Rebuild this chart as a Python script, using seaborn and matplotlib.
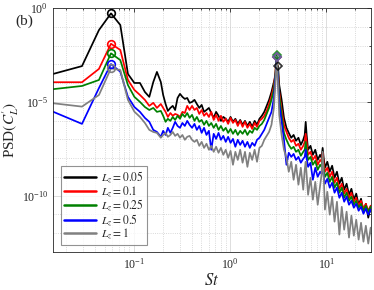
import numpy as np
import pandas as pd
import matplotlib
matplotlib.use("Agg")
import matplotlib.pyplot as plt
import seaborn as sns
from matplotlib.lines import Line2D
from matplotlib.ticker import FixedLocator, NullFormatter

# Strouhal numbers of the spectrum samples
st = [0.0145, 0.029, 0.0435, 0.058, 0.0725, 0.087, 0.1015, 0.116, 0.1305, 0.145, 0.1595, 0.174,
      0.191, 0.202, 0.214, 0.226, 0.240, 0.254, 0.269, 0.285, 0.302, 0.320, 0.339, 0.359,
      0.380, 0.403, 0.427, 0.452, 0.479, 0.507, 0.537, 0.569, 0.603, 0.638, 0.676, 0.716,
      0.759, 0.804, 0.851, 0.902, 0.955, 1.012, 1.072, 1.135, 1.202, 1.274, 1.349, 1.429,
      1.514, 1.603, 1.698, 1.799, 1.905, 2.018, 2.138, 2.265, 2.399, 2.541, 2.692, 2.851,
      2.95, 3.05, 3.15,
      3.24, 3.43, 3.63, 3.85, 4.07, 4.32, 4.57, 4.84, 5.13, 5.43, 5.75, 5.96, 6.10, 6.24,
      6.46, 6.84, 7.24, 7.67, 8.13, 8.61, 8.91, 9.15, 9.38, 9.66, 10.23, 10.84, 11.48, 12.16,
      12.88, 13.65, 14.45, 15.31, 16.22, 17.18, 18.2, 19.28, 20.42, 21.63, 22.91, 24.27,
      25.7, 27.23, 28.84, 30.55]

# log10 PSD(C_L') for each Lz
lz_005 = [-3.51, -3.09, -1.17, -0.28, -0.90, -3.51, -3.99, -3.99, -4.47, -4.73, -3.94, -3.40,
          -3.94, -4.63, -5.11, -5.48, -5.32, -5.21, -5.43, -4.79, -4.57, -4.73, -4.84, -4.79,
          -5.05, -5.00, -4.89, -5.11, -5.32, -5.16, -5.53, -5.43, -5.32, -5.59, -5.85, -5.53,
          -5.74, -6.01, -5.80, -5.90, -6.06, -5.80, -6.06, -5.90, -6.17, -5.96, -6.22, -6.01,
          -6.28, -6.06, -6.33, -6.01, -6.22, -5.90, -5.74, -5.53, -5.21, -4.89, -4.47, -3.94,
          -3.62, -3.40, -3.09,
          -4.10, -4.89, -5.85, -6.38, -6.65, -6.91, -6.76, -7.07, -6.91, -7.29, -7.02, -6.76,
          -6.06, -6.76, -7.55, -7.34, -7.82, -7.55, -8.09, -7.82, -7.98, -7.45, -7.98, -8.51,
          -8.19, -8.72, -8.40, -9.04, -8.72, -9.36, -9.04, -9.68, -9.36, -9.95, -9.63, -10.21,
          -9.89, -10.48, -10.16, -10.85, -10.43, -11.17, -10.59, -11.28]
lz_01 = [-3.95, -3.95, -3.24, -1.90, -2.23, -3.83, -4.36, -4.63, -4.89, -5.21, -5.05, -5.32,
         -5.11, -5.32, -5.53, -5.80, -5.59, -5.74, -5.64, -5.69, -5.80, -5.53, -5.59, -5.21,
         -5.43, -5.21, -5.43, -5.32, -5.64, -5.43, -5.74, -5.59, -5.80, -5.53, -5.96, -5.69,
         -6.01, -5.74, -6.06, -5.90, -6.17, -5.85, -6.12, -5.96, -6.28, -6.01, -6.33, -6.06,
         -6.38, -6.17, -6.44, -6.12, -6.33, -6.01, -5.90, -5.74, -5.48, -5.11, -4.68, -4.15,
         -3.40, -2.59, -3.40,
         -4.47, -5.43, -6.22, -6.60, -6.91, -7.13, -7.02, -7.34, -7.23, -7.55, -7.34, -7.13,
         -6.70, -7.13, -7.82, -7.66, -8.09, -7.87, -8.35, -8.09, -8.19, -7.71, -8.24, -8.72,
         -8.51, -8.99, -8.72, -9.31, -9.04, -9.63, -9.36, -9.89, -9.63, -10.11, -9.84, -10.32,
         -10.11, -10.53, -10.27, -10.69, -10.43, -10.80, -10.53, -10.85]
lz_025 = [-4.32, -4.15, -3.83, -2.41, -2.77, -4.10, -4.73, -5.00, -5.27, -5.43, -5.32, -5.53,
          -5.48, -5.74, -6.06, -5.90, -6.01, -5.80, -5.96, -5.74, -5.90, -5.64, -5.80, -5.59,
          -5.85, -5.69, -6.01, -5.80, -6.06, -5.96, -6.22, -6.01, -6.28, -6.12, -6.38, -6.17,
          -6.49, -6.28, -6.54, -6.38, -6.65, -6.44, -6.70, -6.49, -6.76, -6.54, -6.70, -6.49,
          -6.76, -6.54, -6.65, -6.38, -6.49, -6.28, -6.17, -5.96, -5.64, -5.32, -4.89, -4.36,
          -3.56, -2.50, -3.51,
          -4.68, -5.69, -6.65, -7.02, -7.29, -7.50, -7.39, -7.66, -7.55, -7.87, -7.66, -7.55,
          -7.13, -7.55, -8.09, -7.93, -8.35, -8.14, -8.62, -8.35, -8.46, -7.98, -8.51, -8.99,
          -8.78, -9.26, -8.99, -9.57, -9.31, -9.84, -9.57, -10.11, -9.84, -10.27, -10.05, -10.48,
          -10.27, -10.64, -10.43, -10.80, -10.53, -10.85, -10.59, -10.90]
lz_05 = [-5.52, -6.17, -4.26, -2.98, -3.39, -4.73, -5.27, -5.53, -5.85, -6.06, -6.49, -6.60,
         -6.86, -6.54, -6.76, -6.38, -6.65, -6.38, -6.06, -6.28, -6.38, -6.12, -6.28, -6.01,
         -6.22, -6.38, -6.17, -6.49, -6.28, -6.65, -6.38, -6.76, -6.54, -7.55, -6.70, -6.97,
         -6.65, -7.02, -6.81, -7.13, -6.86, -7.18, -6.97, -7.39, -7.02, -7.29, -7.07, -7.39,
         -7.13, -7.45, -7.18, -7.34, -7.02, -6.91, -6.70, -6.49, -6.17, -5.85, -5.53, -4.79,
         -3.83, -2.61, -3.83,
         -5.11, -6.06, -7.02, -8.35, -7.71, -7.93, -7.77, -8.09, -7.93, -8.24, -8.03, -7.93,
         -7.55, -7.98, -8.46, -8.24, -9.15, -8.51, -8.99, -8.72, -8.83, -8.40, -8.94, -9.36,
         -9.10, -9.57, -9.31, -9.84, -9.57, -10.11, -9.84, -10.32, -10.05, -10.48, -10.27, -10.64,
         -10.43, -10.80, -10.59, -10.96, -10.69, -11.01, -10.74, -11.06]
lz_1 = [-5.07, -5.25, -4.63, -3.21, -3.30, -4.89, -5.52, -5.80, -6.12, -6.49, -6.60, -6.65,
        -6.91, -6.76, -6.65, -6.86, -6.76, -6.60, -6.81, -6.70, -6.91, -6.76, -7.02, -6.86,
        -6.81, -7.02, -7.13, -7.02, -7.34, -7.13, -7.45, -7.23, -7.55, -7.34, -7.66, -7.39,
        -7.71, -7.45, -7.82, -7.55, -7.98, -7.61, -8.35, -7.66, -8.09, -7.55, -8.24, -7.66,
        -8.46, -7.71, -8.09, -7.55, -8.19, -7.45, -7.34, -7.02, -6.81, -6.60, -6.22, -5.32,
        -4.10, -2.61, -4.10,
        -5.69, -6.76, -7.55, -7.98, -8.72, -8.19, -9.15, -8.35, -9.41, -8.51, -9.68, -8.62,
        -8.19, -8.88, -9.95, -9.04, -10.21, -9.26, -10.48, -9.47, -8.88, -7.66, -8.88, -10.74,
        -9.79, -11.01, -10.05, -11.38, -10.32, -12.07, -10.59, -11.81, -10.85, -12.23, -11.06, -12.13,
        -11.28, -12.34, -11.44, -12.45, -11.60, -12.55, -11.70, -12.55]

labels = ["$L_z = 0.05$", "$L_z = 0.1$", "$L_z = 0.25$", "$L_z = 0.5$", "$L_z = 1$"]
colors = ["black", "#ff0000", "#008000", "#0000ff", "#808080"]
series = [lz_005, lz_01, lz_025, lz_05, lz_1]

sns.set_style("white")
plt.rcParams["font.family"] = ["Liberation Serif", "DejaVu Serif"]
plt.rcParams["mathtext.fontset"] = "stix"

frames = []
for lab, vals in zip(labels, series):
    frames.append(pd.DataFrame({"St": st, "PSD": 10.0 ** np.array(vals), "Lz": lab}))
df = pd.concat(frames, ignore_index=True)

fig = plt.figure(figsize=(3.74, 2.90), dpi=100)
ax = fig.add_axes([0.1417, 0.131, 0.850, 0.841])

sns.lineplot(data=df, x="St", y="PSD", hue="Lz", palette=dict(zip(labels, colors)),
             estimator=None, sort=False, lw=1.25, legend=False, ax=ax)

# peak markers: low-frequency peak (circle) and shedding peak (diamond)
st_arr = np.array(st)
for vals, c in zip(series, colors):
    v = np.array(vals)
    lo = np.where(st_arr < 0.2)[0]
    hi = np.where((st_arr > 2.5) & (st_arr < 4))[0]
    i1 = lo[np.argmax(v[lo])]
    i2 = hi[np.argmax(v[hi])]
    ax.plot(st_arr[i1], 10.0 ** v[i1], "o", ms=5.5, mfc="none", mec=c, mew=1.2)
    ax.plot(st_arr[i2], 10.0 ** v[i2], "D", ms=4.5, mfc="none", mec=c, mew=1.2, alpha=0.8)

ax.set_xscale("log")
ax.set_yscale("log")
ax.set_xlim(0.0145, 29)
ax.set_ylim(1e-13, 1)
ax.yaxis.set_major_locator(FixedLocator([1e-10, 1e-5, 1e0]))
ax.yaxis.set_minor_locator(FixedLocator([10.0 ** e for e in range(-13, 1) if e % 5 != 0]))
ax.yaxis.set_minor_formatter(NullFormatter())
ax.xaxis.set_minor_formatter(NullFormatter())

ax.grid(which="major", color="#dddddd", lw=0.7, ls="-")
ax.grid(which="minor", color="#cccccc", lw=0.6, ls=":")
ax.tick_params(which="both", direction="in", top=True, right=True, colors="#262626",
               labelsize=8.5, width=0.6)
ax.tick_params(which="major", length=3)
ax.tick_params(which="minor", length=1.5)
for s in ax.spines.values():
    s.set_color("#262626")
    s.set_linewidth(0.6)

ax.set_xlabel("$St$", fontsize=12, labelpad=1)
ax.set_ylabel("PSD$(C_L')$", fontsize=11)
ax.yaxis.set_label_coords(-0.10, 0.5)
fig.text(0.04, 0.915, "(b)", fontsize=11)

handles = [Line2D([0], [0], color=c, lw=1.8) for c in colors]
leg = ax.legend(handles, labels, loc="lower left", bbox_to_anchor=(0.024, 0.029),
                borderaxespad=0, fontsize=8.3, frameon=True, fancybox=False,
                edgecolor="#777777", handlelength=2.8, handletextpad=0.4,
                labelspacing=-0.12, borderpad=0.3)
leg.get_frame().set_linewidth(0.8)

fig.savefig("out.png", dpi=100)
